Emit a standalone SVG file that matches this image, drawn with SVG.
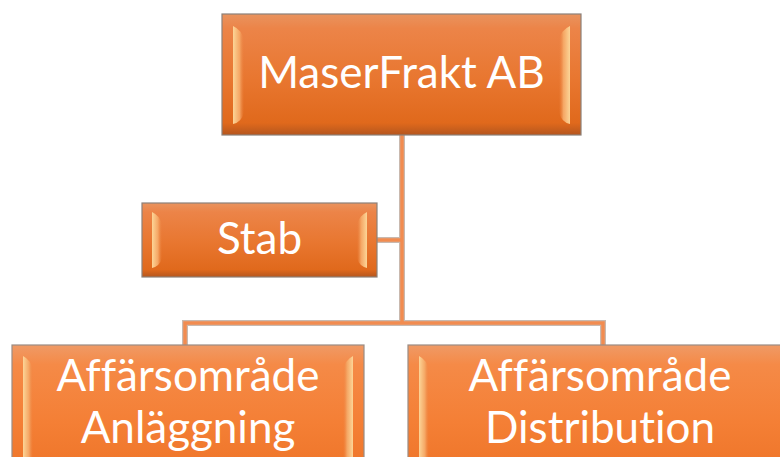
<svg xmlns="http://www.w3.org/2000/svg" width="780" height="457" viewBox="0 0 780 457">
<defs>
<linearGradient id="body" x1="0" y1="0" x2="0" y2="1">
<stop offset="0" stop-color="#E9935E"/>
<stop offset="0.12" stop-color="#EC8448"/>
<stop offset="0.55" stop-color="#E8762F"/>
<stop offset="0.9" stop-color="#E0691C"/>
<stop offset="1" stop-color="#B5561E"/>
</linearGradient>
<linearGradient id="body2" x1="0" y1="0" x2="0" y2="1">
<stop offset="0" stop-color="#EF9A66"/>
<stop offset="0.15" stop-color="#F58A47"/>
<stop offset="0.6" stop-color="#F47F35"/>
<stop offset="1" stop-color="#EE7428"/>
</linearGradient>
<linearGradient id="bevL" x1="0" y1="0" x2="1" y2="0">
<stop offset="0" stop-color="#FCD597"/>
<stop offset="0.6" stop-color="#F5A664"/>
<stop offset="1" stop-color="#EC8644" stop-opacity="0"/>
</linearGradient>
<linearGradient id="bevR" x1="1" y1="0" x2="0" y2="0">
<stop offset="0" stop-color="#FCD597"/>
<stop offset="0.6" stop-color="#F5A664"/>
<stop offset="1" stop-color="#EC8644" stop-opacity="0"/>
</linearGradient>
</defs>
<style>
.box{fill:url(#body);stroke:#8C8079;stroke-width:1.2}
.box2{fill:url(#body2);stroke:#9A8C84;stroke-width:1.2}
.bl{fill:url(#bevL)}
.br{fill:url(#bevR)}
.lbl{font-family:Lato,"Open Sans","Liberation Sans",sans-serif;font-variant-ligatures:none;font-feature-settings:"liga" 0;fill:#FFFFFF;text-anchor:middle}
.under{fill:none;stroke:#C9B9AF;stroke-width:6}
.con{fill:none;stroke:#F28C50;stroke-width:3.5}
</style>
<g id="connectors">
<path class="under" d="M402,135 V323 M377,240 H402 M185,345 V323 H603 V345"/>
<path class="con" d="M402,135 V323 M377,240 H402 M185,345 V323 H603 V345"/>
</g>
<g id="node-maserfrakt">
<rect class="box" x="222" y="14" width="359" height="121"/>
<path class="bl" d="M233,26 Q242,30 244,40 V112 Q242,122 233,124 Z"/>
<path class="br" d="M570,26 Q561,30 559,40 V112 Q561,122 570,124 Z"/>
<text class="lbl" x="401.5" y="88" font-size="44">MaserFrakt AB</text>
</g>
<g id="node-stab">
<rect class="box" x="142" y="203" width="235" height="74"/>
<path class="bl" d="M152,212 Q160,216 162,224 V258 Q160,266 152,268 Z"/>
<path class="br" d="M367,212 Q359,216 357,224 V258 Q359,266 367,268 Z"/>
<text class="lbl" x="259.5" y="254" font-size="44">Stab</text>
</g>
<g id="node-anlaggning">
<rect class="box2" x="12" y="345" width="352" height="130"/>
<path class="bl" d="M23,356 Q31,360 33,370 V470 H23 Z"/>
<path class="br" d="M353,356 Q345,360 343,370 V470 H353 Z"/>
<text class="lbl" x="188" y="391" font-size="44">Affärsområde</text>
<text class="lbl" x="188" y="443" font-size="44">Anläggning</text>
</g>
<g id="node-distribution">
<rect class="box2" x="408" y="345" width="384" height="130"/>
<path class="bl" d="M419,356 Q427,360 429,370 V470 H419 Z"/>
<text class="lbl" x="600" y="391" font-size="44">Affärsområde</text>
<text class="lbl" x="600" y="443" font-size="44">Distribution</text>
</g>
</svg>
